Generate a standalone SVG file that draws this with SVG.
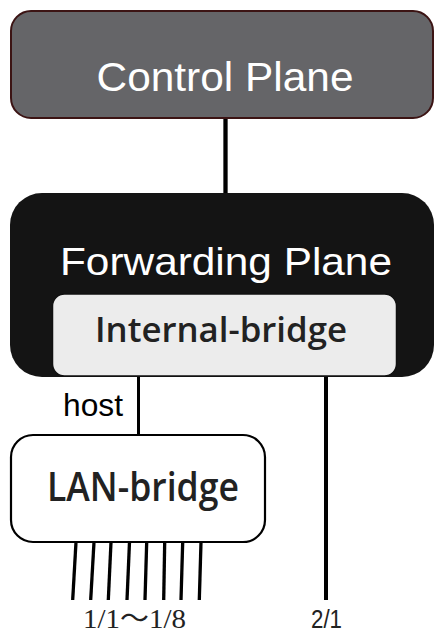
<svg xmlns="http://www.w3.org/2000/svg" width="435" height="634" viewBox="0 0 435 634">
<style>
.sans{font-family:"Liberation Sans",Arial,sans-serif}
.semi{font-family:"Open Sans","Noto Sans",sans-serif;font-weight:600;fill:#222}
.wire{stroke:#000;fill:none}
</style>
<rect width="435" height="634" fill="#fff"/>
<g id="connectors">
<line class="wire" x1="225.5" y1="118" x2="225.5" y2="194" stroke-width="4.3"/>
<line class="wire" x1="138.5" y1="376" x2="138.5" y2="435" stroke-width="3"/>
<line class="wire" x1="326" y1="376" x2="326" y2="600" stroke-width="4"/>
<g stroke-width="3.3">
<line class="wire" x1="76" y1="542" x2="72.7" y2="600"/>
<line class="wire" x1="94" y1="542" x2="90.7" y2="600"/>
<line class="wire" x1="111" y1="542" x2="108.3" y2="600"/>
<line class="wire" x1="129.5" y1="542" x2="127" y2="600"/>
<line class="wire" x1="146.7" y1="542" x2="145" y2="600"/>
<line class="wire" x1="164.7" y1="542" x2="163.7" y2="600"/>
<line class="wire" x1="182.7" y1="542" x2="181" y2="600"/>
<line class="wire" x1="201" y1="542" x2="199.3" y2="600"/>
</g>
</g>
<g id="control-plane">
<rect x="11" y="11" width="422" height="107" rx="20" ry="20" fill="#656568" stroke="#3c1414" stroke-width="2"/>
<text x="225" y="91" class="sans" font-size="40.5" fill="#fff" text-anchor="middle" textLength="257" lengthAdjust="spacingAndGlyphs">Control Plane</text>
</g>
<g id="forwarding-plane">
<rect x="10" y="193" width="424" height="184" rx="32" ry="32" fill="#141414"/>
<text x="226" y="275" class="sans" font-size="39" fill="#fff" text-anchor="middle" textLength="332" lengthAdjust="spacingAndGlyphs">Forwarding Plane</text>
</g>
<g id="internal-bridge">
<rect x="52.5" y="294" width="344" height="82" rx="12" ry="12" fill="#ececec" stroke="#111" stroke-width="1.5"/>
<text x="221" y="342" class="semi" font-size="35" text-anchor="middle" textLength="252" lengthAdjust="spacingAndGlyphs">Internal-bridge</text>
</g>
<g id="host-label">
<text x="63" y="416" class="sans" font-size="31" fill="#000" textLength="60" lengthAdjust="spacingAndGlyphs">host</text>
</g>
<g id="lan-bridge">
<rect x="11" y="435" width="254" height="107" rx="22" ry="22" fill="#fff" stroke="#000" stroke-width="2.2"/>
<text x="143" y="501" class="semi" font-size="39" text-anchor="middle" textLength="192" lengthAdjust="spacingAndGlyphs">LAN-bridge</text>
</g>
<g id="port-labels">
<text x="83" y="628" font-family="'Liberation Serif','Noto Sans CJK JP',serif" font-size="27" fill="#222" textLength="103" lengthAdjust="spacingAndGlyphs">1/1～1/8</text>
<text x="311" y="628" font-family="'Liberation Sans',Arial,sans-serif" font-size="25" fill="#222" textLength="31" lengthAdjust="spacingAndGlyphs">2/1</text>
</g>
</svg>
